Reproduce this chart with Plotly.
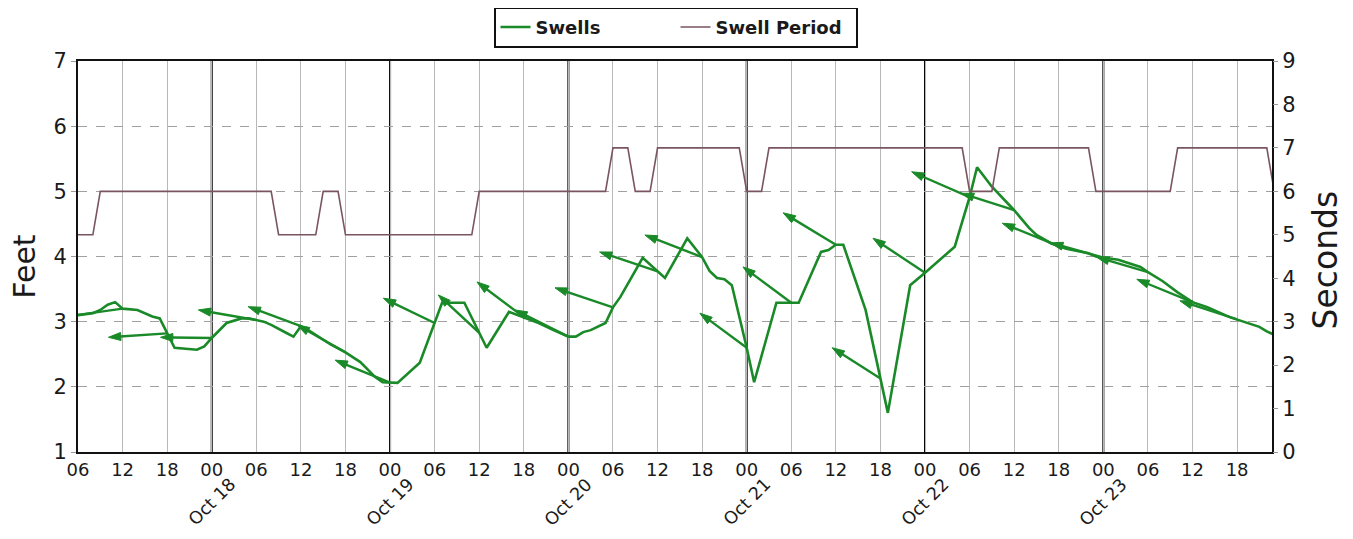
import numpy as np
import pandas as pd
import plotly.graph_objects as go

# ---------------- data (hours counted from Oct 17 00:00) ----------------
start = pd.Timestamp("2013-10-17 00:00")

swell_hours = [6, 8, 9, 10, 11, 12, 14, 16, 17, 18, 19, 22, 23, 24, 26, 28, 29, 31, 32,
               34, 35, 36, 37, 40, 42, 44, 46, 47, 49, 52, 54, 55, 58, 61, 64, 66, 68,
               70, 72, 73, 74, 75, 77, 78, 79, 82, 85, 88, 90, 91, 92, 93, 94, 96, 97,
               100, 103, 106, 107, 108, 109, 112, 115, 118, 120, 124, 126, 127, 129,
               132, 134, 135, 137, 139, 142, 143, 146, 149, 150, 152, 154, 156, 158,
               161, 163, 165, 166, 167]
swell_feet = [3.10, 3.13, 3.18, 3.26, 3.30, 3.20, 3.18, 3.08, 3.05, 2.82, 2.60, 2.57, 2.62,
              2.75, 2.98, 3.05, 3.05, 3.00, 2.95, 2.83, 2.77, 2.93, 2.87, 2.65, 2.53, 2.38,
              2.15, 2.07, 2.06, 2.37, 2.98, 3.29, 3.29, 2.60, 3.15, 3.07, 2.98, 2.87, 2.77,
              2.77, 2.84, 2.87, 2.98, 3.22, 3.38, 3.98, 3.67, 4.28, 3.99, 3.78, 3.67, 3.65,
              3.56, 2.60, 2.07, 3.29, 3.29, 4.07, 4.10, 4.18, 4.18, 3.18, 1.60, 3.56, 3.75,
              4.15, 4.91, 5.37, 5.07, 4.71, 4.44, 4.33, 4.20, 4.12, 4.05, 4.00, 3.95, 3.84,
              3.76, 3.62, 3.45, 3.30, 3.22, 3.07, 3.00, 2.92, 2.85, 2.80]

period_hours = [6, 8, 9, 32, 33, 38, 39, 41, 42, 59, 60, 77, 78, 80, 81, 83, 84, 95, 96,
                98, 99, 125, 126, 129, 130, 142, 143, 153, 154, 166, 167]
period_seconds = [5, 5, 6, 6, 5, 5, 6, 6, 5, 5, 6, 6, 7, 7, 6, 6, 7, 7, 6,
                  6, 7, 7, 6, 6, 7, 7, 6, 6, 7, 7, 6]

# swell-direction arrows: base time on the swell line, arrow tip position
arrow_hours = [12, 18, 24, 30, 36, 42, 48, 54, 60, 66, 72, 78, 84, 90, 96, 102, 108,
               114, 120, 126, 132, 138, 144, 150, 156, 162]
arrow_head_hours = [3.9, 10.1, 17.1, 22.2, 28.9, 35.5, 40.6, 47.1, 54.5, 59.7, 64.8, 70.2,
                    76.2, 82.3, 89.7, 95.5, 100.9, 107.5, 113.0, 118.2, 124.9, 130.4,
                    136.9, 143.1, 148.5, 154.3]
arrow_head_feet = [3.07, 2.76, 2.76, 3.18, 3.23, 2.95, 2.41, 3.36, 3.41, 3.61, 3.18, 3.52,
                   4.07, 4.33, 3.13, 3.84, 4.67, 2.60, 4.28, 5.30, 4.97, 4.51, 4.21, 3.99,
                   3.65, 3.32]

date_labels = ["Oct 18", "Oct 19", "Oct 20", "Oct 21", "Oct 22", "Oct 23"]
x_range_hours = [6, 166.7]
feet_range = [1, 7]
seconds_range = [0, 9]

GREEN = "#1a8a28"
PERIOD = "#7a5560"
FONT = "DejaVu Sans"
INK = "#1a1a1a"


def t(h):
    return start + pd.to_timedelta(np.asarray(h, dtype=float), unit="h")


fig = go.Figure()

fig.add_trace(go.Scatter(x=t(swell_hours), y=swell_feet, mode="lines", name="Swells",
                         line=dict(color=GREEN, width=2.6)))

base_feet = np.interp(arrow_hours, swell_hours, swell_feet)
for bh, bf, hh, hf in zip(arrow_hours, base_feet, arrow_head_hours, arrow_head_feet):
    fig.add_trace(go.Scatter(
        x=t([bh, hh]), y=[bf, hf], mode="lines+markers", showlegend=False,
        hoverinfo="skip",
        line=dict(color=GREEN, width=2.4),
        marker=dict(symbol="arrow", size=[0, 13], angleref="previous", color=GREEN,
                    opacity=1, line=dict(width=1, color=GREEN))))

fig.add_trace(go.Scatter(x=t(period_hours), y=period_seconds, mode="lines",
                         name="Swell Period", yaxis="y2",
                         line=dict(color=PERIOD, width=1.6)))

tick_hours = list(range(6, 163, 6))
tick_vals = t(tick_hours)
tick_text = [f"{h % 24:02d}" for h in tick_hours]

# page body has an 8px margin: figure is sized so the plot lands at x 78-1272, y 61-452
fig.update_layout(
    width=1337, height=523,
    margin=dict(l=70, r=73, t=53, b=79, autoexpand=False),
    paper_bgcolor="white", plot_bgcolor="white",
    font=dict(family=FONT, color=INK),
    showlegend=True,
    legend=dict(orientation="h", x=0.348, y=1.1385, xanchor="left", yanchor="top",
                bordercolor="#111", borderwidth=2, bgcolor="white",
                font=dict(family=FONT, size=18, weight="bold", color=INK),
                itemwidth=30, entrywidth=135, tracegroupgap=0),
    xaxis=dict(type="date", range=[t(x_range_hours[0]), t(x_range_hours[1])],
               tickmode="array", tickvals=tick_vals, ticktext=tick_text,
               tickfont=dict(size=18), showgrid=True, gridcolor="#b8b8b8", gridwidth=1,
               showline=True, linecolor="#111", linewidth=2, mirror=True,
               ticks="", zeroline=False, automargin=False),
    yaxis=dict(range=feet_range, dtick=1, tickfont=dict(size=21), showgrid=True,
               gridcolor="#a0a0a0", griddash="dash", gridwidth=1,
               showline=True, linecolor="#111", linewidth=2, mirror=True,
               ticks="outside", ticklen=5, tickcolor="#999", zeroline=False,
               automargin=False),
    yaxis2=dict(range=seconds_range, dtick=1, overlaying="y", side="right",
                tickfont=dict(size=21), showgrid=False, zeroline=False,
                ticks="outside", ticklen=5, tickcolor="#999", showline=False,
                automargin=False),
)

# black midnight lines and the rotated date labels
for d in range(1, 7):
    fig.add_shape(type="line", xref="x", yref="paper", x0=t(24 * d), x1=t(24 * d),
                  y0=0, y1=1, line=dict(color="#000", width=2), layer="between")
    fig.add_annotation(x=t(24 * d), xref="x", y=0, yref="paper", yshift=-50,
                       text=date_labels[d - 1], showarrow=False, textangle=-45,
                       font=dict(size=17.5, color=INK), xanchor="center",
                       yanchor="middle")

fig.add_annotation(text="Feet", x=0, xref="paper", xshift=-53, y=0.474, yref="paper",
                   xanchor="center", yanchor="middle",
                   textangle=-90, showarrow=False, font=dict(size=30, color=INK))
fig.add_annotation(text="Seconds", x=1, xref="paper", xshift=53, y=0.490, yref="paper",
                   xanchor="center", yanchor="middle",
                   textangle=-90, showarrow=False, font=dict(size=33, color=INK))

fig.write_html("out.html")
